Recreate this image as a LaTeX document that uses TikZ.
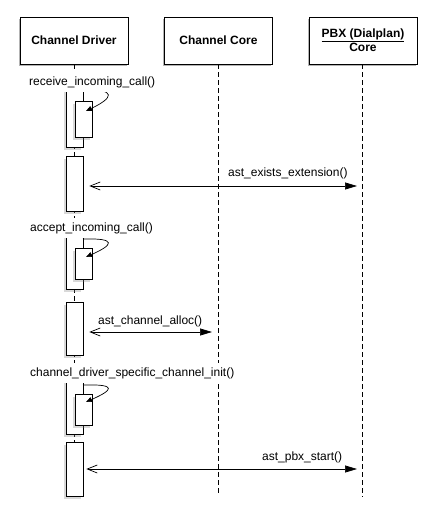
\documentclass[tikz,border=0pt]{standalone}
\usepackage{fontspec}
\setmainfont{Liberation Sans}
\usetikzlibrary{arrows.meta,shadows}

\begin{document}
\begin{tikzpicture}[x=1pt,y=1pt,
  every node/.append style={font=\fontsize{12}{14}\selectfont},
  head/.style={draw=black,line width=0.8pt,fill=white,minimum width=108pt,minimum height=47pt,align=center,
    font=\bfseries\fontsize{12}{14}\selectfont,
    drop shadow={shadow xshift=-1.5pt,shadow yshift=-1.5pt,opacity=0.6}},
  life/.style={black,line width=0.7pt,dash pattern=on 5pt off 3pt},
  actbar/.style={draw=black,line width=0.7pt,fill=white,minimum width=17pt,inner sep=0pt,
    drop shadow={shadow xshift=-2.5pt,shadow yshift=-2.5pt,opacity=0.3}},
  callname/.style={fill=white,inner sep=4pt,anchor=west},
  msgname/.style={inner sep=0pt,anchor=west},
  msg/.style={line width=0.7pt,{Straight Barb[length=10pt,width=8pt]}-{Triangle[length=12pt,width=7pt]}},
  selfcall/.style={line width=0.7pt,-{Triangle[length=6pt,width=5pt]}}]
\useasboundingbox (0,0) rectangle (436,-520);
% participants
\node[head] (drv) at (74,-40.5) {Channel Driver};
\node[head] (core) at (218.5,-40.5) {Channel Core};
\node[head] (pbx) at (363,-40.5) {\underline{PBX (Dialplan)}\\Core};
\coordinate (drvend) at (74,-496);
\coordinate (coreend) at (218,-493);
\coordinate (pbxend) at (362,-497);
\draw[life] (drv.south -| drvend) -- (drvend);
\draw[life] (core.south -| coreend) -- (coreend);
\draw[life] (pbx.south -| pbxend) -- (pbxend);
% receive_incoming_call
\node[actbar,minimum height=59pt] (b1) at (74.5,-117.5) {};
\node[actbar,minimum height=36pt] (c1) at (83.5,-119) {};
\draw[selfcall] (83,-90) .. controls (118,-89) and (113,-98) .. (86,-111);
\node[callname] (l1) at (25,-82) {receive\_incoming\_call()};
% ast_exists_extension
\node[actbar,minimum height=55pt] (b2) at (74.5,-183.5) {};
\coordinate (m2) at (357,-186);
\draw[msg,shorten <=6pt] (b2.east |- m2) -- (m2);
\node[msgname] (t2) at (228,-173) {ast\_exists\_extension()};
% accept_incoming_call
\node[actbar,minimum height=55pt] (b3) at (74.5,-261.5) {};
\node[actbar,minimum height=31pt] (c3) at (83.5,-263.5) {};
\draw[selfcall] (83,-239) .. controls (118,-238) and (113,-245) .. (86,-257);
\node[callname] (l3) at (26,-228) {accept\_incoming\_call()};
% ast_channel_alloc
\node[actbar,minimum height=53pt] (b4) at (74.5,-328.5) {};
\coordinate (m4) at (212,-332);
\draw[msg,shorten <=6pt] (b4.east |- m4) -- (m4);
\node[msgname] (t4) at (98,-321) {ast\_channel\_alloc()};
% channel_driver_specific_channel_init
\node[actbar,minimum height=54pt] (b5) at (74.5,-407) {};
\node[actbar,minimum height=31pt] (c5) at (83.5,-409.5) {};
\draw[selfcall] (83,-385) .. controls (118,-384) and (113,-390) .. (86,-402);
\node[callname] (l5) at (26,-373) {channel\_driver\_specific\_channel\_init()};
% ast_pbx_start
\node[actbar,minimum height=54pt] (b6) at (74.5,-469) {};
\coordinate (m6) at (357,-469);
\draw[msg,shorten <=3pt] (b6.east |- m6) -- (m6);
\node[msgname] (t6) at (262,-457) {ast\_pbx\_start()};
\end{tikzpicture}
\end{document}
